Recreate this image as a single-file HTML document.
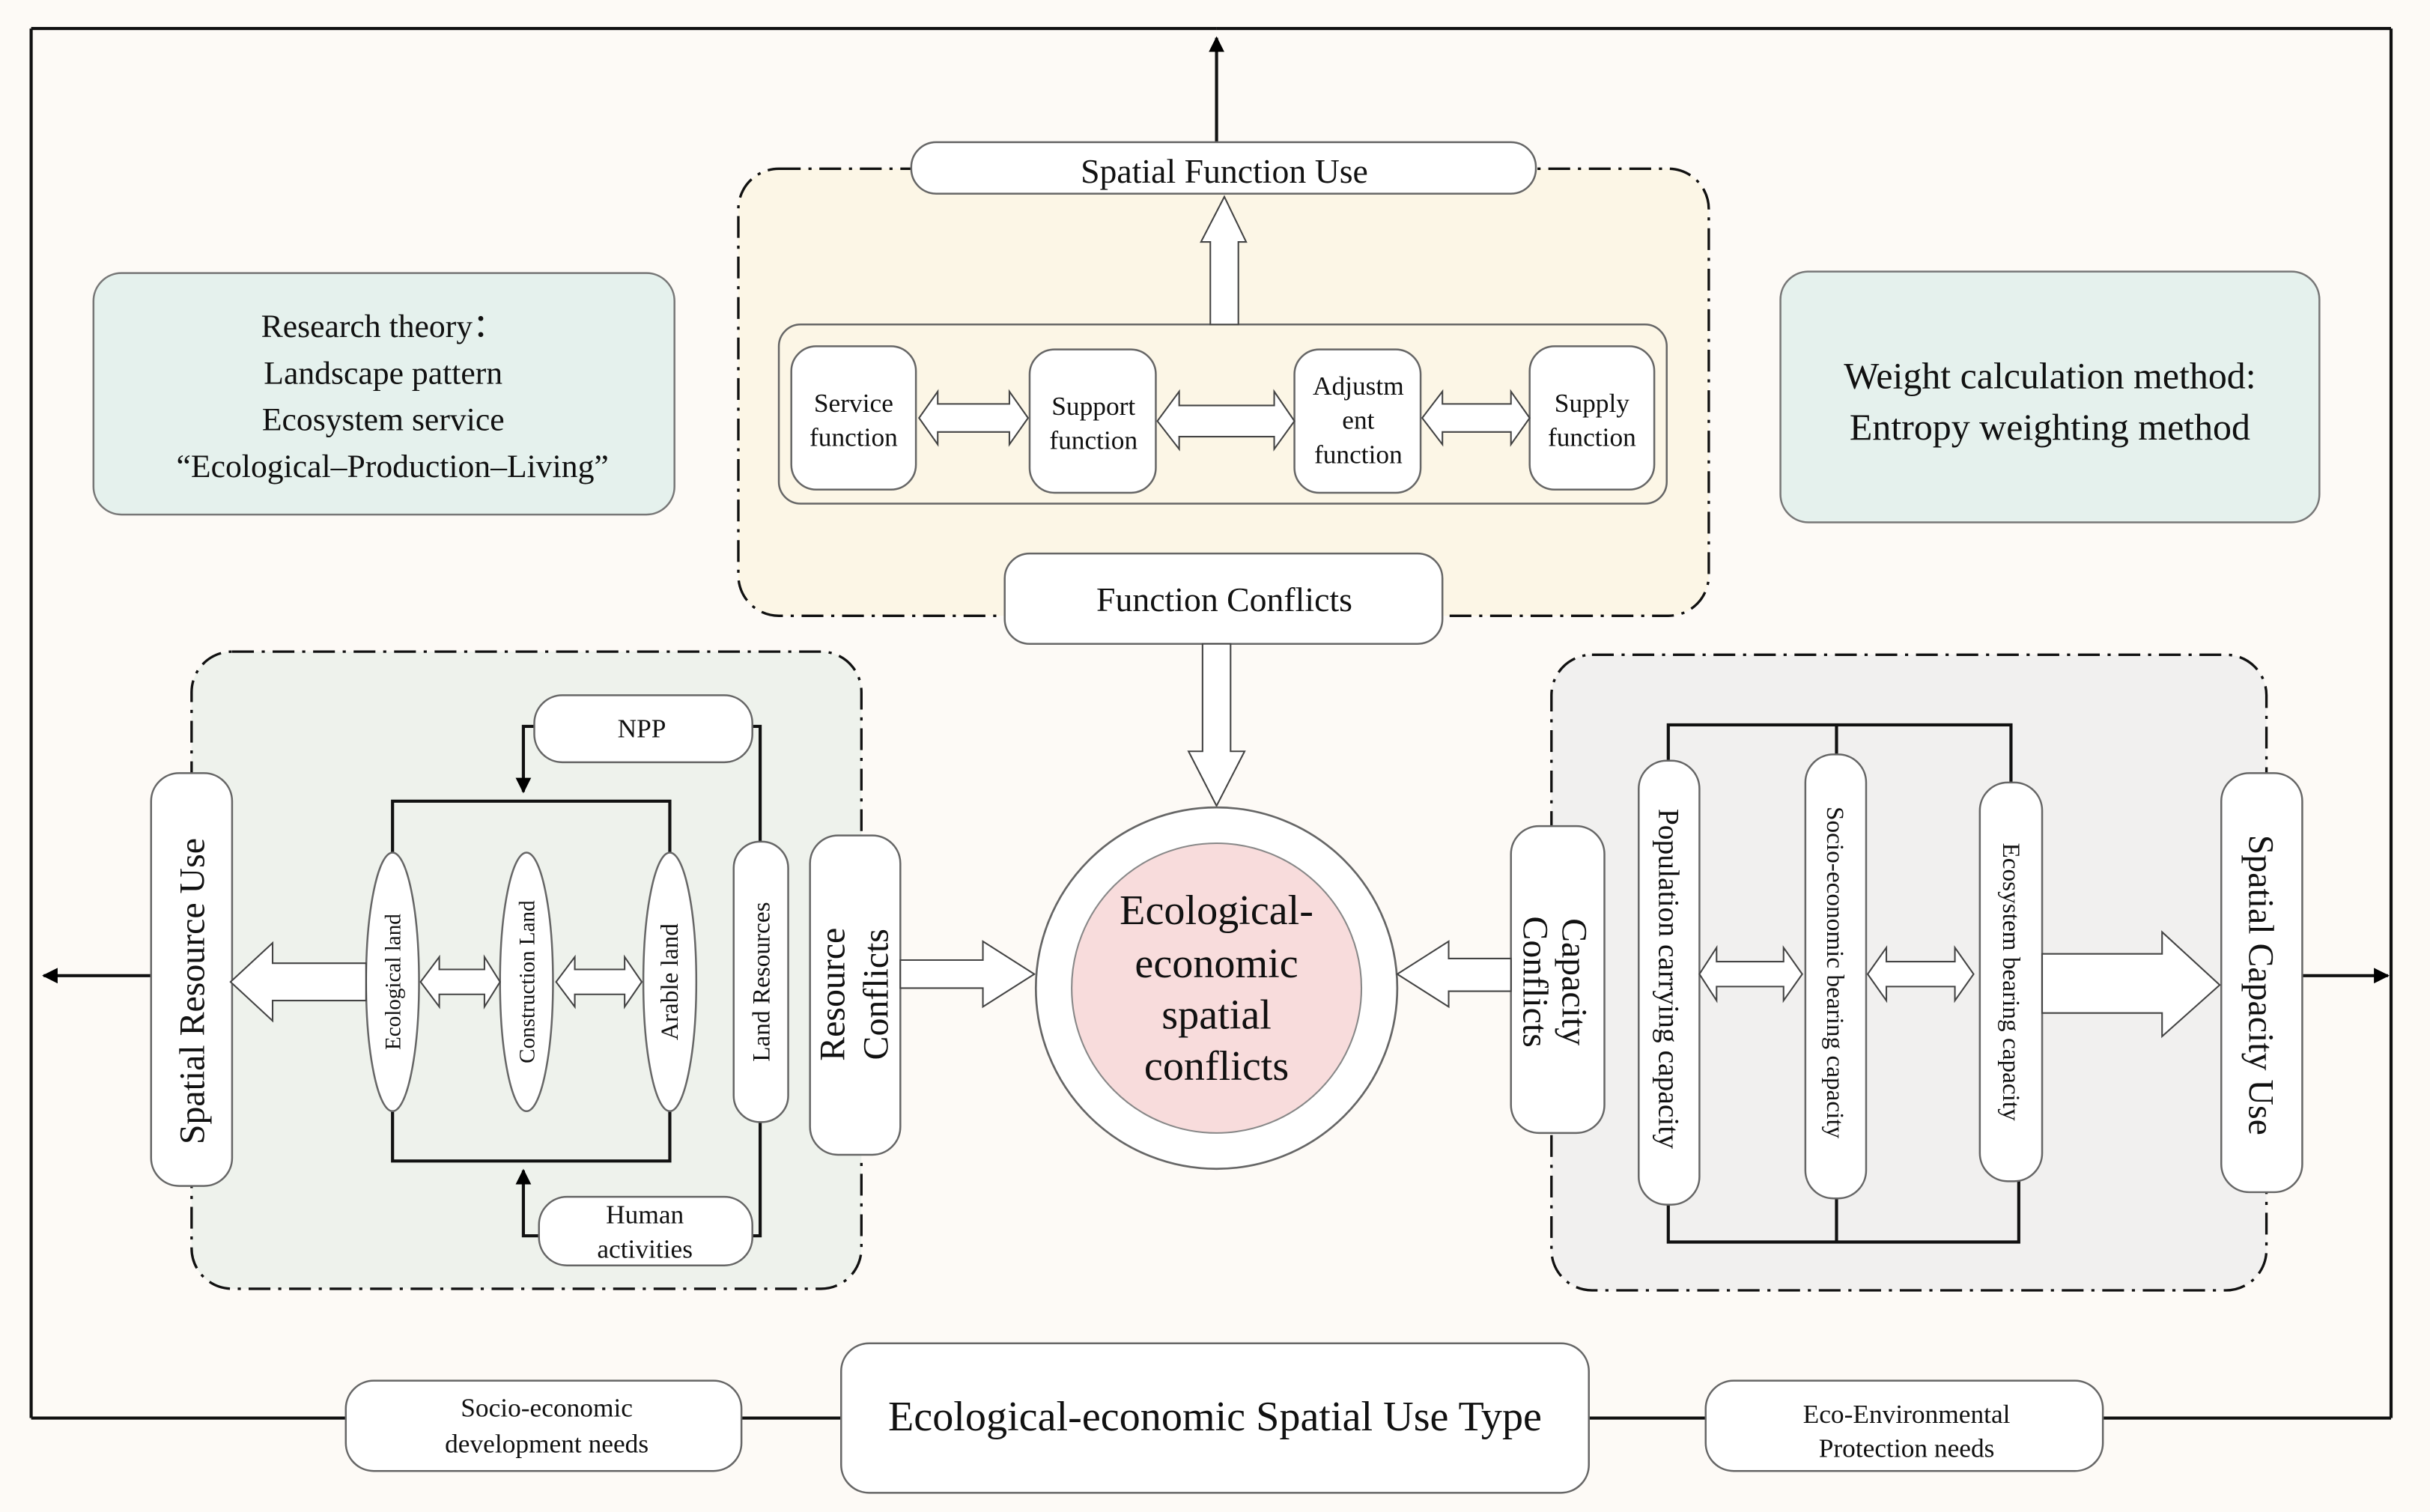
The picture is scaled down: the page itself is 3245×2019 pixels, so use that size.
<!DOCTYPE html>
<html><head><meta charset="utf-8">
<style>
html,body{margin:0;padding:0;background:#fdfaf6;}
svg{display:block;}
text{font-family:"Liberation Serif",serif;fill:#111;}
</style></head>
<body>
<svg width="3245" height="2019" viewBox="0 0 1560 970" xmlns="http://www.w3.org/2000/svg">
<defs>
<marker id="ah" viewBox="0 0 10 10" refX="9" refY="5" markerWidth="5" markerHeight="5" orient="auto"><path d="M0,0 L10,5 L0,10 z" fill="#000"/></marker>
</defs>
<rect x="0" y="0" width="1560" height="970" fill="#fdfaf6"/>
<g stroke="#111" stroke-width="2" fill="none">
<line x1="20" y1="18" x2="781" y2="18"/>
<line x1="781" y1="18" x2="1535" y2="18"/>
<line x1="20" y1="18" x2="20" y2="910"/>
<line x1="1535" y1="18" x2="1535" y2="910"/>
<line x1="20" y1="910" x2="1535" y2="910"/>
<line x1="781" y1="91" x2="781" y2="24" marker-end="url(#ah)"/>
<line x1="97" y1="626" x2="28" y2="626" marker-end="url(#ah)"/>
<line x1="1478" y1="626" x2="1533" y2="626" marker-end="url(#ah)"/>
</g>

<g stroke="#111" stroke-width="1.6" stroke-dasharray="14,5,2,5">
<rect x="474" y="108" width="623" height="287" rx="26" fill="#fcf6e6"/>
<rect x="123" y="418" width="430" height="409" rx="26" fill="#eef2ec"/>
<rect x="996" y="420" width="459" height="408" rx="26" fill="#f1f0ef"/>
</g>

<g stroke="#777" stroke-width="1.2" fill="#e5f1ed">
<rect x="60" y="175" width="373" height="155" rx="18"/>
<rect x="1143" y="174" width="346" height="161" rx="18"/>
</g>
<g font-size="21" text-anchor="middle">
<text x="246" y="216">Research theory：</text>
<text x="246" y="246">Landscape pattern</text>
<text x="246" y="276">Ecosystem service</text>
<text x="252" y="306">“Ecological–Production–Living”</text>
</g>
<g font-size="24" text-anchor="middle">
<text x="1316" y="249">Weight calculation method:</text>
<text x="1316" y="282">Entropy weighting method</text>
</g>

<g stroke="#666" stroke-width="1.2" fill="#fff">
<rect x="585" y="91" width="401" height="33" rx="16"/>
<rect x="500" y="208" width="570" height="115" rx="14" fill="#fcf6e6"/>
<rect x="508" y="222" width="80" height="92" rx="16"/>
<rect x="661" y="224" width="81" height="92" rx="16"/>
<rect x="831" y="224" width="81" height="92" rx="16"/>
<rect x="982" y="222" width="80" height="92" rx="16"/>
<rect x="645" y="355" width="281" height="58" rx="16"/>
</g>
<g font-size="22" text-anchor="middle"><text x="786" y="117">Spatial Function Use</text>
<text x="786" y="392">Function Conflicts</text></g>
<g font-size="17" text-anchor="middle">
<text x="548" y="264">Service</text><text x="548" y="286">function</text>
<text x="702" y="266">Support</text><text x="702" y="288">function</text>
<text x="872" y="253">Adjustm</text><text x="872" y="275">ent</text><text x="872" y="297">function</text>
<text x="1022" y="264">Supply</text><text x="1022" y="286">function</text>
</g>
<g stroke="#444" stroke-width="1" fill="#fff">
<path d="M777,208 L777,155 L771,155 L786,126 L800,155 L795,155 L795,208 Z"/>
<path d="M772,413 L772,482 L763,482 L781,517 L799,482 L790,482 L790,413 Z"/>
<path d="M590,268 L602,251 L602,259 L648,259 L648,251 L660,268 L648,285 L648,277 L602,277 L602,285 Z"/>
<path d="M743,270 L757,251 L757,260 L818,260 L818,251 L831,270 L818,288 L818,280 L757,280 L757,288 Z"/>
<path d="M913,268 L926,251 L926,259 L970,259 L970,251 L982,268 L970,285 L970,277 L926,277 L926,285 Z"/>
</g>

<g stroke="#111" stroke-width="2" fill="none">
<polyline points="252,547 252,514 430,514 430,547"/>
<polyline points="252,713 252,745 430,745 430,713"/>
<polyline points="483,466 488,466 488,540"/>
<polyline points="488,720 488,793 483,793"/>
<polyline points="343,466 336,466 336,508" marker-end="url(#ah)"/>
<polyline points="346,793 336,793 336,751" marker-end="url(#ah)"/>
</g>
<g stroke="#666" stroke-width="1.2" fill="#fff">
<rect x="97" y="496" width="52" height="265" rx="18"/>
<ellipse cx="252" cy="630" rx="17" ry="83"/>
<ellipse cx="338" cy="630" rx="17" ry="83"/>
<ellipse cx="430" cy="630" rx="17" ry="83"/>
<rect x="343" y="446" width="140" height="43" rx="18"/>
<rect x="346" y="768" width="137" height="44" rx="18"/>
<rect x="471" y="540" width="35" height="180" rx="17"/>
<rect x="520" y="536" width="58" height="205" rx="18"/>
</g>
<g stroke="#444" stroke-width="1" fill="#fff">
<path d="M235,618 L175,618 L175,605 L148,630 L175,655 L175,642 L235,642 Z"/>
<path d="M270,630 L282,614 L282,622 L311,622 L311,614 L321,630 L311,646 L311,638 L282,638 L282,646 Z"/>
<path d="M357,630 L369,614 L369,622 L401,622 L401,614 L412,630 L401,646 L401,638 L369,638 L369,646 Z"/>
<path d="M578,616 L631,616 L631,604 L664,625 L631,646 L631,634 L578,634 Z"/>
</g>
<text x="412" y="473" font-size="17" text-anchor="middle">NPP</text>
<text x="414" y="785" font-size="17" text-anchor="middle">Human</text>
<text x="414" y="807" font-size="17" text-anchor="middle">activities</text>
<text transform="translate(131,636) rotate(-90)" font-size="23" text-anchor="middle">Spatial  Resource Use</text>
<text transform="translate(257,630) rotate(-90)" font-size="14" text-anchor="middle">Ecological land</text>
<text transform="translate(343,630) rotate(-90)" font-size="14" text-anchor="middle">Construction Land</text>
<text transform="translate(435,630) rotate(-90)" font-size="16" text-anchor="middle">Arable land</text>
<text transform="translate(494,630) rotate(-90)" font-size="16" text-anchor="middle">Land Resources</text>
<text transform="translate(542,638) rotate(-90)" font-size="23" text-anchor="middle">Resource</text>
<text transform="translate(570,638) rotate(-90)" font-size="23" text-anchor="middle">Conflicts</text>

<circle cx="781" cy="634" r="116" fill="#fff" stroke="#666" stroke-width="1.3"/>
<circle cx="781" cy="634" r="93" fill="#f8dcdc" stroke="#888" stroke-width="1"/>
<g font-size="27" text-anchor="middle" fill="#111">
<text x="781" y="593">Ecological-</text>
<text x="781" y="627">economic</text>
<text x="781" y="660">spatial</text>
<text x="781" y="693">conflicts</text>
</g>

<g stroke="#111" stroke-width="2" fill="none">
<polyline points="1071,488 1071,465 1291,465 1291,502"/>
<line x1="1179" y1="465" x2="1179" y2="484"/>
<polyline points="1071,773 1071,797 1296,797 1296,758"/>
<line x1="1179" y1="769" x2="1179" y2="797"/>
</g>
<g stroke="#666" stroke-width="1.2" fill="#fff">
<rect x="970" y="530" width="60" height="197" rx="18"/>
<rect x="1052" y="488" width="39" height="285" rx="18"/>
<rect x="1159" y="484" width="39" height="285" rx="18"/>
<rect x="1271" y="502" width="40" height="256" rx="18"/>
<rect x="1426" y="496" width="52" height="269" rx="18"/>
</g>
<g stroke="#444" stroke-width="1" fill="#fff">
<path d="M970,615 L930,615 L930,604 L897,625 L930,646 L930,636 L970,636 Z"/>
<path d="M1091,625 L1102,608 L1102,617 L1145,617 L1145,608 L1157,625 L1145,642 L1145,633 L1102,633 L1102,642 Z"/>
<path d="M1199,625 L1211,608 L1211,617 L1255,617 L1255,608 L1267,625 L1255,642 L1255,633 L1211,633 L1211,642 Z"/>
<path d="M1311,612 L1388,612 L1388,598 L1425,632 L1388,665 L1388,650 L1311,650 Z"/>
</g>
<text transform="translate(1003,630) rotate(90)" font-size="23" text-anchor="middle">Capacity</text>
<text transform="translate(978,630) rotate(90)" font-size="23" text-anchor="middle">Conflicts</text>
<text transform="translate(1065,628) rotate(90)" font-size="19" text-anchor="middle">Population carrying capacity</text>
<text transform="translate(1173,624) rotate(90)" font-size="16" text-anchor="middle">Socio-economic bearing capacity</text>
<text transform="translate(1286,630) rotate(90)" font-size="16" text-anchor="middle">Ecosystem bearing capacity</text>
<text transform="translate(1444,632) rotate(90)" font-size="23" text-anchor="middle">Spatial  Capacity Use</text>

<g stroke="#666" stroke-width="1.2" fill="#fff">
<rect x="222" y="886" width="254" height="58" rx="18"/>
<rect x="540" y="862" width="480" height="96" rx="18"/>
<rect x="1095" y="886" width="255" height="58" rx="18"/>
</g>
<g text-anchor="middle">
<text x="351" y="909" font-size="17">Socio-economic</text>
<text x="351" y="932" font-size="17">development needs</text>
<text x="780" y="918" font-size="27">Ecological-economic Spatial Use Type</text>
<text x="1224" y="913" font-size="17">Eco-Environmental</text>
<text x="1224" y="935" font-size="17">Protection needs</text>
</g>
</svg>
</body></html>
